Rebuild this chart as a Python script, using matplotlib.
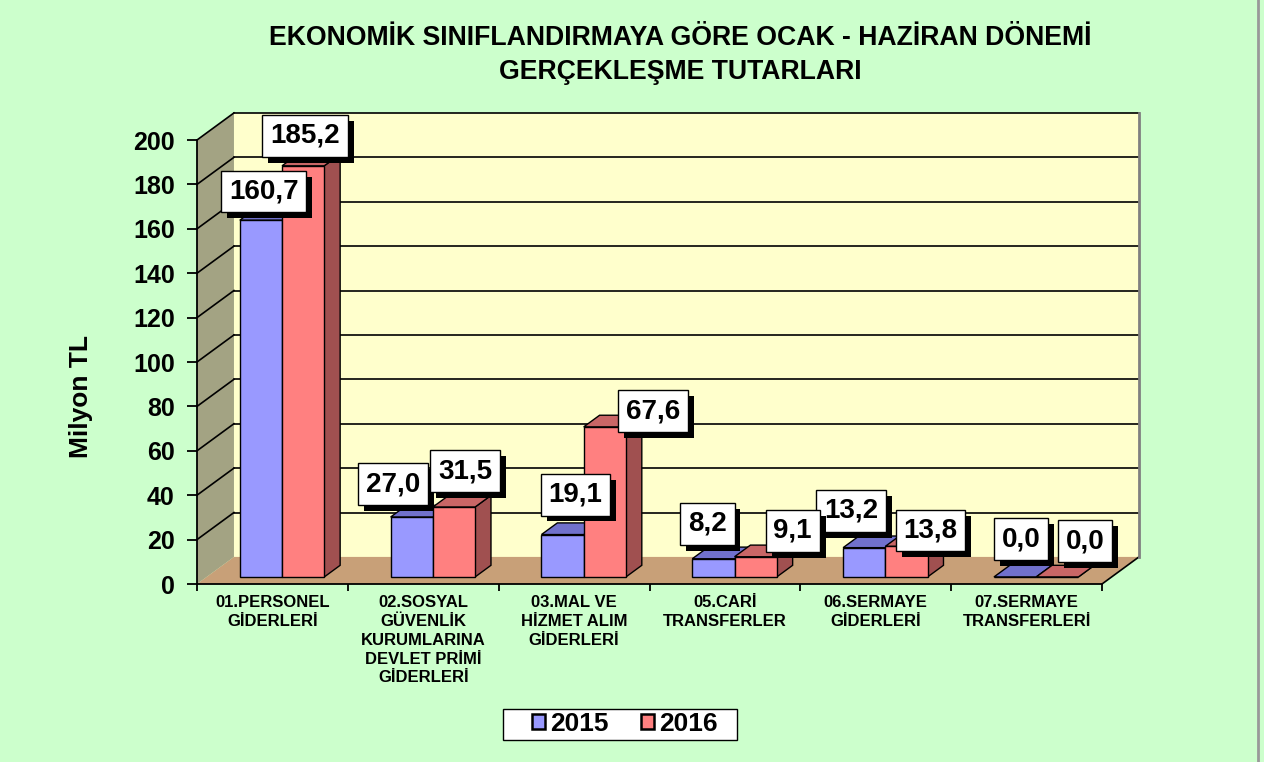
import matplotlib
matplotlib.use("Agg")
import matplotlib.pyplot as plt
import matplotlib.patches as mpatches
import matplotlib.lines as mlines
import matplotlib.patheffects as pe

plt.rcParams["font.family"] = ["Liberation Sans", "DejaVu Sans"]
plt.rcParams["font.weight"] = "bold"
plt.rcParams["axes.labelweight"] = "bold"

categories = [
    "01.PERSONEL\nGİDERLERİ",
    "02.SOSYAL\nGÜVENLİK\nKURUMLARINA\nDEVLET PRİMİ\nGİDERLERİ",
    "03.MAL VE\nHİZMET ALIM\nGİDERLERİ",
    "05.CARİ\nTRANSFERLER",
    "06.SERMAYE\nGİDERLERİ",
    "07.SERMAYE\nTRANSFERLERİ",
]
series_names = ["2015", "2016"]
values_2015 = [160.7, 27.0, 19.1, 8.2, 13.2, 0.0]
values_2016 = [185.2, 31.5, 67.6, 9.1, 13.8, 0.0]
y_ticks = list(range(0, 201, 20))

title = "EKONOMİK SINIFLANDIRMAYA GÖRE OCAK - HAZİRAN DÖNEMİ\nGERÇEKLEŞME TUTARLARI"
y_label = "Milyon TL"

# fake 3d: depth offset of the walls in data units
DX, DY = 0.245, 12.2
D0, D1 = 0.26, 0.69          # bar depth range (0 = front, 1 = back wall)
BAR_SLOTS = [(0.22, 0.50), (0.50, 0.78)]

# front, top, side
face_colors = [("#9999ff", "#7171cc", "#5a5aa8"), ("#ff8080", "#c96666", "#a05050")]

# value boxes nudged in pixels, roughly where excel put them
label_nudge = [
    [(-5, 23), (-27, 27), (5, 34), (-14, 29), (-21, 31), (-2, 32)],
    [(-6, 24), (3, 30), (40, 10), (29, 20), (16, 10), (20, 30)],
]


def proj(x, v, d):
    return (x + d * DX, v + d * DY)


def poly(ax, pts, fc, ec="black", lw=1.0, z=2):
    ax.add_patch(mpatches.Polygon(pts, closed=True, facecolor=fc, edgecolor=ec,
                                  linewidth=lw, zorder=z, clip_on=False))


W, H = 1264, 762
fig = plt.figure(figsize=(W / 100, H / 100), dpi=100, facecolor="#ccffcc")
ax = fig.add_axes([197 / W, 1 - 584 / H, 905 / W, 444 / H])
ax.set_facecolor("none")
n = len(categories)
ymax = y_ticks[-1]
ax.set_xlim(0, n)
ax.set_ylim(0, ymax)

# walls and floor
poly(ax, [proj(0, 0, 1), proj(n, 0, 1), proj(n, ymax, 1), proj(0, ymax, 1)], "#ffffcc", ec="none", z=1)
poly(ax, [proj(0, 0, 0), proj(0, ymax, 0), proj(0, ymax, 1), proj(0, 0, 1)], "#a3a383", ec="none", z=1)
poly(ax, [proj(0, 0, 0), proj(n, 0, 0), proj(n, 0, 1), proj(0, 0, 1)], "#c8a078", ec="none", z=1)

for t in y_ticks[1:]:
    (x0, y0), (x1, y1) = proj(0, t, 0), proj(0, t, 1)
    ax.plot([x0, x1], [y0, y1], color="black", lw=1.2, zorder=1.5, clip_on=False)
    (x0, y0), (x1, y1) = proj(0, t, 1), proj(n, t, 1)
    ax.plot([x0, x1], [y0, y1], color="black", lw=1.2, zorder=1.5, clip_on=False)
(x0, y0), (x1, y1) = proj(n, 0, 0), proj(n, 0, 1)
ax.plot([x0, x1], [y0, y1], color="black", lw=1.2, zorder=1.5, clip_on=False)
(x0, y0), (x1, y1) = proj(n, 0, 1), proj(n, ymax, 1)
ax.plot([x0, x1], [y0, y1], color="#808080", lw=2, zorder=1.5, clip_on=False)

# bars
all_values = [values_2015, values_2016]
for i in range(n):
    for s, vals in enumerate(all_values):
        a, b = BAR_SLOTS[s]
        x0, x1, v = i + a, i + b, vals[i]
        front, top, side = face_colors[s]
        poly(ax, [proj(x1, 0, D0), proj(x1, 0, D1), proj(x1, v, D1), proj(x1, v, D0)], side, z=3)
        poly(ax, [proj(x0, v, D0), proj(x1, v, D0), proj(x1, v, D1), proj(x0, v, D1)], top, z=3)
        poly(ax, [proj(x0, 0, D0), proj(x1, 0, D0), proj(x1, v, D0), proj(x0, v, D0)], front, z=3)

# value boxes with drop shadow
shadow = [pe.SimplePatchShadow(offset=(4.3, -4.3), shadow_rgbFace="black", alpha=1), pe.Normal()]
for s, vals in enumerate(all_values):
    a, b = BAR_SLOTS[s]
    for i, v in enumerate(vals):
        xy = proj(i + (a + b) / 2, v, (D0 + D1) / 2)
        dx, dy = label_nudge[s][i]
        txt = f"{v:.1f}".replace(".", ",")
        ann = ax.annotate(txt, xy, xytext=(dx, dy), textcoords="offset pixels",
                          ha="center", va="center", fontsize=20, color="black", zorder=6,
                          bbox=dict(boxstyle="square,pad=0.28", fc="white", ec="black", lw=1),
                          annotation_clip=False)
        ann.get_bbox_patch().set_path_effects(shadow)

# axes
for side in ["top", "right"]:
    ax.spines[side].set_visible(False)
for side in ["left", "bottom"]:
    ax.spines[side].set_linewidth(1.3)
    ax.spines[side].set_zorder(4)
ax.set_yticks(y_ticks)
ax.tick_params(axis="y", direction="out", length=7, width=1.3, pad=9, labelsize=18)
ax.set_xticks(range(n + 1), [""] * (n + 1))
ax.tick_params(axis="x", which="major", direction="out", length=5, width=1.3)
ax.set_xticks([i + 0.5 for i in range(n)], categories, minor=True)
ax.tick_params(axis="x", which="minor", length=0, pad=8, labelsize=12)
for lbl in ax.get_xticklabels(minor=True):
    lbl.set_linespacing(1.32)
ax.set_ylabel(y_label, fontsize=19, fontweight="bold")
ax.yaxis.set_label_coords(-0.115, 0.423)

fig.text(680 / W, 1 - 55 / H, title, ha="center", va="center", fontsize=19.2, linespacing=1.4)

# legend: frame drawn separately so its padding matches
fig.add_artist(mpatches.Rectangle((503 / W, 1 - 740 / H), 234 / W, 31 / H, transform=fig.transFigure,
                                  facecolor="white", edgecolor="black", linewidth=1))
handles = [mpatches.Patch(facecolor=c[0], edgecolor="black", linewidth=1.8) for c in face_colors]
leg = fig.legend(handles, series_names, loc="center", bbox_to_anchor=(625 / W, 1 - 724 / H),
                 ncol=2, fontsize=19, frameon=False, handlelength=0.5, handleheight=0.5,
                 handletextpad=0.2, columnspacing=1.2, borderpad=0, borderaxespad=0)
for t in leg.get_texts():
    t.set_fontweight("bold")

fig.add_artist(mlines.Line2D([1258 / W] * 2, [0, 1], color="#999999", lw=2, transform=fig.transFigure))

fig.savefig("out.png", dpi=100, facecolor=fig.get_facecolor())
